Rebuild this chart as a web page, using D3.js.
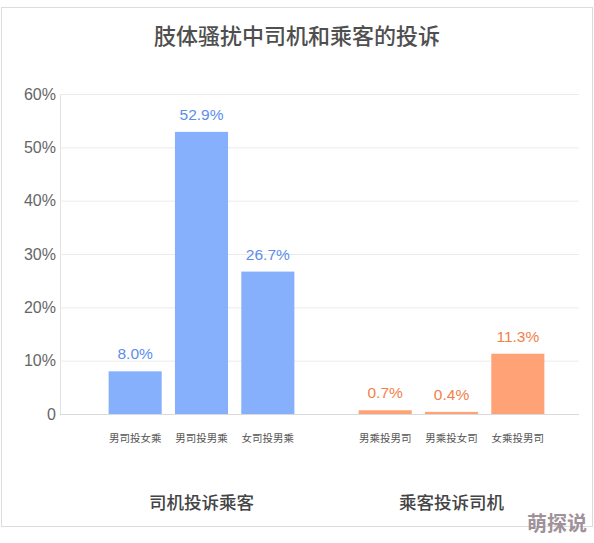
<!DOCTYPE html>
<html>
<head>
<meta charset="utf-8">
<script src="https://cdn.jsdelivr.net/npm/d3@7"></script>
<style>
  html, body { margin: 0; padding: 0; background: #fff; }
  svg { display: block; font-family: "Liberation Sans", "Noto Sans CJK SC", sans-serif; }
</style>
</head>
<body>
<svg id="chart" width="594" height="543"></svg>
<script>
// chart values
const groups = ['司机投诉乘客', '乘客投诉司机'];
const driverCats = ['男司投女乘', '男司投男乘', '女司投男乘'];
const driverVals = [8.0, 52.9, 26.7];
const passengerCats = ['男乘投男司', '男乘投女司', '女乘投男司'];
const passengerVals = [0.7, 0.4, 11.3];
const yTicks = [0, 10, 20, 30, 40, 50, 60];
const yTickLabels = ['0', '10%', '20%', '30%', '40%', '50%', '60%'];

const barColor = { [groups[0]]: '#86b0fb', [groups[1]]: '#ffa275' };
const labelColor = { [groups[0]]: '#5b8eec', [groups[1]]: '#f27f4b' };

const svg = d3.select('#chart');
const plotLeft = 60, plotRight = 579, plotTop = 94, plotBottom = 414;

// frame
svg.append('rect')
	.attr('x', 1.5).attr('y', 7.5)
	.attr('width', 591).attr('height', 519)
	.attr('fill', '#fff')
	.attr('stroke', '#dcdcdc');

svg.append('text')
	.attr('x', 297).attr('y', 36.5)
	.attr('text-anchor', 'middle')
	.attr('dominant-baseline', 'central')
	.style('font-size', '22px')
	.style('font-weight', 500)
	.style('fill', '#4f4f4f')
	.text('肢体骚扰中司机和乘客的投诉');

const y = d3.scaleLinear().domain([0, 60]).range([plotBottom, plotTop]);

// gridlines + y labels
const yAxis = d3.axisLeft(y)
	.tickValues(yTicks)
	.tickSize(-(plotRight - plotLeft))
	.tickPadding(4)
	.tickFormat((d, i) => yTickLabels[i]);

const gy = svg.append('g')
	.attr('transform', `translate(${plotLeft},0)`)
	.call(yAxis);
gy.select('.domain').attr('stroke', '#e2e2e2');
gy.selectAll('.tick line').attr('stroke', d => d === 0 ? '#d9d9d9' : '#ebebeb');
gy.selectAll('.tick text')
	.style('font-size', '16px')
	.style('fill', '#666');

// nested band scales
const x0 = d3.scaleBand()
	.domain(groups)
	.range([plotLeft, plotRight])
	.paddingInner(0.204)
	.paddingOuter(0.14)
	.align(0.6);

const series = [
	{ group: groups[0], cats: driverCats, vals: driverVals },
	{ group: groups[1], cats: passengerCats, vals: passengerVals }
];

series.forEach(s => {
	const x1 = d3.scaleBand()
		.domain(s.cats)
		.range([0, x0.bandwidth()])
		.paddingInner(0.2)
		.paddingOuter(0.1);

	const rows = s.cats.map((c, i) => ({ cat: c, val: s.vals[i] }));
	const g = svg.append('g').attr('transform', `translate(${x0(s.group)},0)`);

	g.selectAll('rect')
		.data(rows)
		.join('rect')
		.attr('x', d => x1(d.cat))
		.attr('y', d => y(d.val))
		.attr('width', x1.bandwidth())
		.attr('height', d => plotBottom - y(d.val))
		.attr('fill', barColor[s.group]);

	// value labels
	g.selectAll('text.val')
		.data(rows)
		.join('text')
		.attr('class', 'val')
		.attr('x', d => x1(d.cat) + x1.bandwidth() / 2)
		.attr('y', d => y(d.val) - 12)
		.attr('text-anchor', 'middle')
		.style('font-size', '15.5px')
		.style('fill', labelColor[s.group])
		.text(d => d.val.toFixed(1) + '%');

	// category labels
	g.selectAll('text.cat')
		.data(rows)
		.join('text')
		.attr('class', 'cat')
		.attr('x', d => x1(d.cat) + x1.bandwidth() / 2)
		.attr('y', 437.5)
		.attr('text-anchor', 'middle')
		.attr('dominant-baseline', 'central')
		.style('font-size', '10.5px')
		.style('fill', '#555')
		.text(d => d.cat);

	// group label
	g.append('text')
		.attr('x', x0.bandwidth() / 2)
		.attr('y', 502.5)
		.attr('text-anchor', 'middle')
		.attr('dominant-baseline', 'central')
		.style('font-size', '17.5px')
		.style('font-weight', 500)
		.style('fill', '#444')
		.text(s.group);
});

// watermark
svg.append('text')
	.attr('x', 557).attr('y', 524)
	.attr('text-anchor', 'middle')
	.attr('dominant-baseline', 'central')
	.style('font-size', '20px')
	.style('font-weight', 700)
	.style('fill', '#a0929a')
	.text('萌探说');
</script>
</body>
</html>
